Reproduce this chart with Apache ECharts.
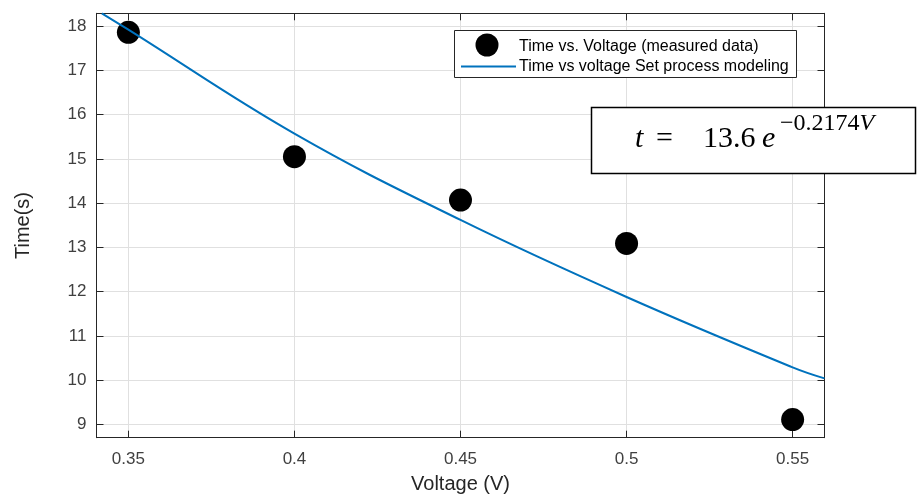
<!DOCTYPE html>
<html>
<head>
<meta charset="utf-8">
<script src="https://cdn.jsdelivr.net/npm/echarts@6/dist/echarts.min.js"></script>
<style>
  html, body { margin: 0; padding: 0; background: #fff; }
  #chart { width: 923px; height: 495px; }
</style>
</head>
<body>
<div id="chart"></div>
<script>
// Measured switching time against applied voltage
const voltage = [0.35, 0.40, 0.45, 0.50, 0.55];
const timeMeasured = [17.86, 15.05, 14.07, 13.09, 9.11];

// Fitted model curve (time vs voltage, Set process)
const fitVoltage = [0.342, 0.35, 0.40, 0.45, 0.50, 0.55, 0.5596];
const fitTime = [18.29, 17.92, 15.57, 13.62, 11.88, 10.29, 10.04];

// Axis ticks
const xTicks = [0.35, 0.40, 0.45, 0.50, 0.55];
const xTickLabels = ['0.35', '0.4', '0.45', '0.5', '0.55'];
const yTicks = [9, 10, 11, 12, 13, 14, 15, 16, 17, 18];
const yTickLabels = ['9', '10', '11', '12', '13', '14', '15', '16', '17', '18'];

const AXIS = '#262626';
const LABEL = '#404040';
const GRID = '#e0e0e0';
const FONT = 'Liberation Sans, Arial, sans-serif';
const SERIF = 'Liberation Serif, serif';
const X_MIN = 0.3404, X_MAX = 0.5596, Y_MIN = 8.70, Y_MAX = 18.29;

const chart = echarts.init(document.getElementById('chart'), null, { renderer: 'canvas' });

function xLabel(v) {
  const i = xTicks.findIndex(t => Math.abs(t - v) < 1e-9);
  return i >= 0 ? xTickLabels[i] : '';
}
function yLabel(v) {
  const i = yTicks.findIndex(t => Math.abs(t - v) < 1e-9);
  return i >= 0 ? yTickLabels[i] : '';
}

// top and right axes close the plot box, with inward ticks only
const boxAxisX = {
  type: 'value', position: 'top', min: X_MIN, max: X_MAX,
  axisLine: { show: true, onZero: false, lineStyle: { color: AXIS, width: 1 } },
  axisTick: { show: true, inside: true, length: 7, customValues: xTicks, lineStyle: { color: AXIS } },
  axisLabel: { show: false },
  splitLine: { show: false }
};
const boxAxisY = {
  type: 'value', position: 'right', min: Y_MIN, max: Y_MAX,
  axisLine: { show: true, onZero: false, lineStyle: { color: AXIS, width: 1 } },
  axisTick: { show: true, inside: true, length: 7, customValues: yTicks, lineStyle: { color: AXIS } },
  axisLabel: { show: false },
  splitLine: { show: false }
};

const option = {
  animation: false,
  backgroundColor: '#fff',
  grid: { left: 96.5, top: 13.3, width: 728, height: 424.4, outerBoundsMode: 'none' },
  xAxis: [{
    type: 'value', position: 'bottom', min: X_MIN, max: X_MAX,
    name: 'Voltage (V)', nameLocation: 'middle', nameGap: 37,
    nameTextStyle: { color: AXIS, fontSize: 20, fontFamily: FONT },
    axisLine: { show: true, onZero: false, lineStyle: { color: AXIS, width: 1 } },
    axisTick: { show: true, inside: true, length: 7, customValues: xTicks, lineStyle: { color: AXIS } },
    axisLabel: { customValues: xTicks, formatter: xLabel, color: LABEL, fontSize: 17, fontFamily: FONT, margin: 13 },
    splitLine: { show: true, customValues: xTicks, lineStyle: { color: GRID, width: 1 } }
  }, boxAxisX],
  yAxis: [{
    type: 'value', position: 'left', min: Y_MIN, max: Y_MAX,
    name: 'Time(s)', nameLocation: 'middle', nameGap: 63,
    nameTextStyle: { color: AXIS, fontSize: 20, fontFamily: FONT },
    axisLine: { show: true, onZero: false, lineStyle: { color: AXIS, width: 1 } },
    axisTick: { show: true, inside: true, length: 7, customValues: yTicks, lineStyle: { color: AXIS } },
    axisLabel: { customValues: yTicks, formatter: yLabel, color: LABEL, fontSize: 17, fontFamily: FONT, margin: 10 },
    splitLine: { show: true, customValues: yTicks, lineStyle: { color: GRID, width: 1 } }
  }, boxAxisY],
  series: [{
    name: 'Time vs. Voltage (measured data)',
    type: 'scatter',
    data: voltage.map((v, i) => [v, timeMeasured[i]]),
    symbol: 'circle', symbolSize: 23,
    itemStyle: { color: '#000', opacity: 1 },
    z: 2
  }, {
    name: 'Time vs voltage Set process modeling',
    type: 'line',
    data: fitVoltage.map((v, i) => [v, fitTime[i]]),
    smooth: 0.4,
    showSymbol: false,
    lineStyle: { color: '#0072BD', width: 2 },
    z: 3
  }],
  graphic: [
    // legend box
    { type: 'rect', shape: { x: 454.5, y: 30.5, width: 342, height: 47 },
      style: { fill: '#fff', stroke: AXIS, lineWidth: 1 }, z: 10 },
    { type: 'circle', shape: { cx: 487, cy: 45, r: 11.5 }, style: { fill: '#000' }, z: 11 },
    { type: 'line', shape: { x1: 461, y1: 66.5, x2: 516, y2: 66.5 },
      style: { stroke: '#0072BD', lineWidth: 2 }, z: 11 },
    { type: 'text', x: 519, y: 46.5, z: 11,
      style: { text: 'Time vs. Voltage (measured data)', fill: '#000', font: '16px ' + FONT, verticalAlign: 'middle' } },
    { type: 'text', x: 519, y: 66.7, z: 11,
      style: { text: 'Time vs voltage Set process modeling', fill: '#000', font: '16px ' + FONT, verticalAlign: 'middle' } },
    // model equation box
    { type: 'rect', shape: { x: 591.5, y: 107.5, width: 324, height: 66 },
      style: { fill: '#fff', stroke: '#000', lineWidth: 1.5 }, z: 10 },
    { type: 'text', x: 635, y: 139, z: 11,
      style: { text: 't', fill: '#000', font: 'italic 30px ' + SERIF, verticalAlign: 'middle' } },
    { type: 'text', x: 656, y: 139, z: 11,
      style: { text: '=', fill: '#000', font: '30px ' + SERIF, verticalAlign: 'middle' } },
    { type: 'text', x: 703, y: 139, z: 11,
      style: { text: '13.6', fill: '#000', font: '30px ' + SERIF, verticalAlign: 'middle' } },
    { type: 'text', x: 762, y: 139, z: 11,
      style: { text: 'e', fill: '#000', font: 'italic 30px ' + SERIF, verticalAlign: 'middle' } },
    { type: 'text', x: 780, y: 124, z: 11,
      style: {
        text: '{n|\u22120.2174}{v|V}', verticalAlign: 'middle',
        rich: {
          n: { fill: '#000', fontSize: 24, fontFamily: SERIF },
          v: { fill: '#000', fontSize: 24, fontFamily: SERIF, fontStyle: 'italic' }
        }
      } }
  ]
};

chart.setOption(option);
</script>
</body>
</html>
